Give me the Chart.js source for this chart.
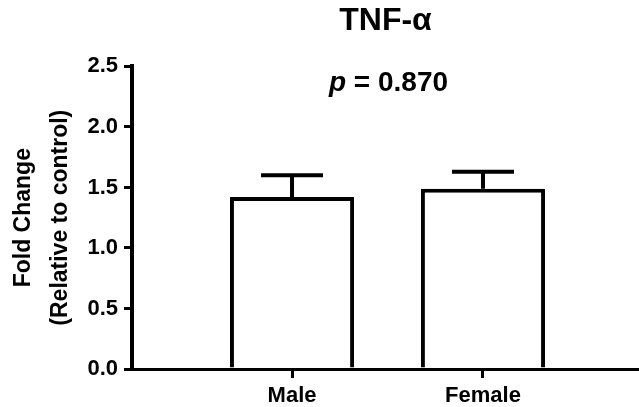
<!DOCTYPE html>
<html>
<head>
<meta charset="utf-8">
<title>TNF-α</title>
<script src="https://cdn.jsdelivr.net/npm/chart.js@4/dist/chart.umd.min.js"></script>
<style>
  html, body { margin: 0; padding: 0; background: #fff; }
  #wrap { width: 639px; height: 407px; }
</style>
</head>
<body>
<div id="wrap"><canvas id="tnf-chart"></canvas></div>
<script>
// 数据
const categories = ['Male', 'Female'];
const positions = [1, 2];            // 组在x轴上的位置
const meanValues = [1.42, 1.49];     // 平均倍数变化
const semValues = [0.18, 0.14];      // 标准误
const yTicks = [0, 0.5, 1.0, 1.5, 2.0, 2.5];
const pValueText = '0.870';
const pLabelLevel = 2.36;            // p值标注所在的y值

const FONT = '"Liberation Sans", Arial, Helvetica, sans-serif';

// 误差线插件：从柱顶向上画线和横帽
const errorBarPlugin = {
  id: 'errorBars',
  afterDatasetsDraw(chart) {
    const ctx = chart.ctx;
    const meta = chart.getDatasetMeta(0);
    const yScale = chart.scales.y;
    const capHalf = 31;
    ctx.save();
    ctx.strokeStyle = '#000';
    ctx.lineWidth = 4;
    ctx.lineCap = 'butt';
    meta.data.forEach((bar, i) => {
      const yTop = yScale.getPixelForValue(meanValues[i]);
      const yErr = yScale.getPixelForValue(meanValues[i] + semValues[i]);
      ctx.beginPath();
      ctx.moveTo(bar.x, yTop);
      ctx.lineTo(bar.x, yErr);
      ctx.moveTo(bar.x - capHalf, yErr);
      ctx.lineTo(bar.x + capHalf, yErr);
      ctx.stroke();
    });
    ctx.restore();
  }
};

// p值标注
const pValuePlugin = {
  id: 'pValue',
  afterDraw(chart) {
    const ctx = chart.ctx;
    const area = chart.chartArea;
    const y = chart.scales.y.getPixelForValue(pLabelLevel);
    ctx.save();
    ctx.fillStyle = '#000';
    ctx.textBaseline = 'middle';
    ctx.textAlign = 'left';
    const italic = 'italic bold 28px ' + FONT;
    const bold = 'bold 28px ' + FONT;
    const rest = ' = ' + pValueText;
    ctx.font = italic;
    const wP = ctx.measureText('p').width;
    ctx.font = bold;
    const wRest = ctx.measureText(rest).width;
    const x0 = (area.left + area.right) / 2 + 3 - (wP + wRest) / 2;
    ctx.font = italic;
    ctx.fillText('p', x0, y);
    ctx.font = bold;
    ctx.fillText(rest, x0 + wP, y);
    ctx.restore();
  }
};

const ctx = document.getElementById('tnf-chart');

new Chart(ctx, {
  type: 'bar',
  data: {
    datasets: [{
      data: positions.map((x, i) => ({ x: x, y: meanValues[i] })),
      backgroundColor: '#fff',
      borderColor: '#000',
      borderWidth: 4,
      borderSkipped: 'start',
      categoryPercentage: 1,
      barPercentage: 0.65
    }]
  },
  options: {
    responsive: true,
    maintainAspectRatio: false,
    animation: false,
    layout: { padding: 0 },
    plugins: {
      legend: { display: false },
      tooltip: { enabled: false },
      title: {
        display: true,
        text: 'TNF-α',
        fullSize: false,
        color: '#000',
        font: { family: FONT, size: 32, weight: 'bold', lineHeight: 1.2 },
        padding: { top: 2, bottom: 26 }
      }
    },
    scales: {
      x: {
        type: 'linear',
        min: 0.162,
        max: 2.817,
        offset: false,
        afterBuildTicks(scale) {
          scale.ticks = positions.map(v => ({ value: v }));
        },
        afterFit(scale) {
          scale.height = 38;
        },
        border: { display: true, color: '#000', width: 3 },
        grid: {
          offset: false,
          drawOnChartArea: false,
          drawTicks: true,
          tickLength: 9,
          lineWidth: 3,
          color: '#000'
        },
        ticks: {
          color: '#000',
          padding: 5,
          maxRotation: 0,
          font: { family: FONT, size: 22, weight: 'bold' },
          callback: (v) => categories[positions.indexOf(v)] || ''
        }
      },
      y: {
        min: 0,
        max: 2.5,
        afterBuildTicks(scale) {
          scale.ticks = yTicks.map(v => ({ value: v }));
        },
        afterFit(scale) {
          scale.width = 132;
        },
        border: { display: true, color: '#000', width: 4 },
        grid: {
          drawOnChartArea: false,
          drawTicks: true,
          tickLength: 8,
          lineWidth: 3,
          color: '#000'
        },
        ticks: {
          color: '#000',
          padding: 6,
          font: { family: FONT, size: 22, weight: 'bold' },
          callback: (v) => Number(v).toFixed(1)
        },
        title: {
          display: true,
          text: ['Fold Change', '(Relative to control)'],
          color: '#000',
          font: { family: FONT, size: 23, weight: 'bold', lineHeight: 1.6 },
          padding: { top: 5, bottom: 0 }
        }
      }
    }
  },
  plugins: [errorBarPlugin, pValuePlugin]
});
</script>
</body>
</html>
